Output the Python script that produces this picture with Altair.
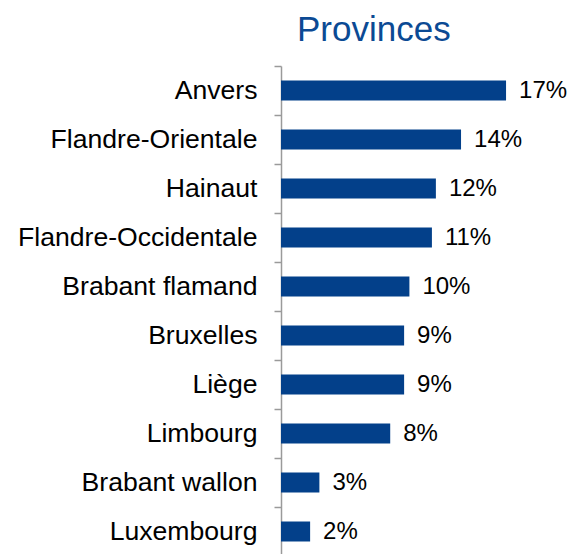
import altair as alt
import pandas as pd

provinces = ["Anvers", "Flandre-Orientale", "Hainaut", "Flandre-Occidentale",
             "Brabant flamand", "Bruxelles", "Liège", "Limbourg",
             "Brabant wallon", "Luxembourg"]
shares = [17.0, 13.6, 11.7, 11.4, 9.7, 9.3, 9.3, 8.25, 2.9, 2.2]

df = pd.DataFrame({"province": provinces, "share": shares})

BAR = "#03408A"
FONT = "Liberation Sans"

base = alt.Chart(df).transform_calculate(
    label="format(datum.share, '.0f') + '%'"
)

y = alt.Y(
    "province:N",
    sort=provinces,
    title=None,
    scale=alt.Scale(paddingInner=0, paddingOuter=0),
    axis=alt.Axis(
        tickBand="extent",
        labelFont=FONT,
        labelFontSize=26.6,
        labelColor="#000000",
        labelPadding=17,
        tickSize=7,
        tickColor="#9a9a9a",
        domainColor="#9a9a9a",
        domainWidth=1.5,
        tickWidth=1.5,
        grid=False,
        labelLimit=400,
    ),
)

x = alt.X("share:Q", scale=alt.Scale(domain=[0, 21]), axis=None)

bars = base.mark_bar(color=BAR, size=20).encode(x=x, y=y)
texts = base.mark_text(
    align="left", baseline="middle", dx=13, font=FONT, fontSize=24, color="#000000"
).encode(x=x, y=y, text="label:N")

chart = (
    alt.layer(bars, texts)
    .properties(
        width=278,
        height=490,
        title=alt.TitleParams(
            "Provinces",
            anchor="start",
            frame="group",
            dx=16,
            offset=5,
            font=FONT,
            fontSize=35,
            fontWeight="normal",
            color="#0B4A94",
        ),
        padding={"left": 273, "top": 58, "right": 9, "bottom": 0},
        autosize=alt.AutoSizeParams(type="none"),
    )
    .configure_view(stroke=None)
)

chart.save("out.html", embed_options={"renderer": "svg", "actions": False})
